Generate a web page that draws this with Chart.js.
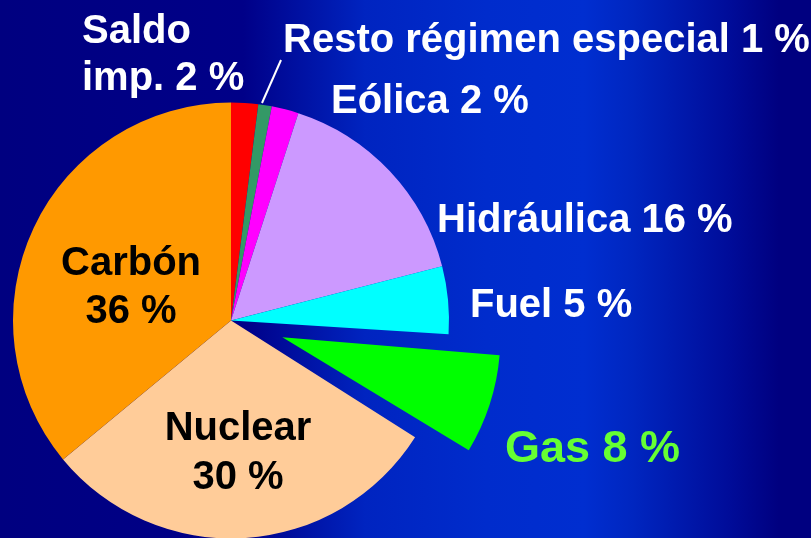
<!DOCTYPE html>
<html>
<head>
<meta charset="utf-8">
<script src="https://cdn.jsdelivr.net/npm/chart.js@4"></script>
<style>
  html, body { margin: 0; padding: 0; }
  body {
    width: 811px; height: 538px; overflow: hidden;
    background: linear-gradient(to right, #000080 0%, #000088 30%, #0024c0 45%, #002ccc 60%, #002ed0 72%, #0026c0 78%, #000c99 90%, #000080 96%, #000080 100%);
  }
  #wrap { position: relative; width: 811px; height: 538px; }
</style>
</head>
<body>
<div id="wrap"><canvas id="pie" width="811" height="538"></canvas></div>
<script>
// Data
const categories = ["Saldo imp.", "Resto régimen especial", "Eólica", "Hidráulica", "Fuel", "Gas", "Nuclear", "Carbón"];
const shares = [2, 1, 2, 16, 5, 8, 30, 36];
const sliceColors = ["#ff0000", "#339966", "#ff00ff", "#cc99ff", "#00ffff", "#00ff00", "#ffcc99", "#ff9900"];
const explodedSlice = "Gas";

// Layout
const R = 218;
const EXPLODE = 54;
const labelLayout = {
  "Saldo imp.": { x: 82, y: [43, 90], split: true, align: "left", color: "#ffffff" },
  "Resto régimen especial": { x: 283, y: [52], align: "left", color: "#ffffff" },
  "Eólica": { x: 331, y: [113], align: "left", color: "#ffffff" },
  "Hidráulica": { x: 437, y: [232], align: "left", color: "#ffffff" },
  "Fuel": { x: 470, y: [317], align: "left", color: "#ffffff" },
  "Gas": { x: 505, y: [462], align: "left", color: "#66ff33", size: 45 },
  "Nuclear": { x: 238, y: [440, 489], split: true, align: "center", color: "#000000" },
  "Carbón": { x: 131, y: [275, 323], split: true, align: "center", color: "#000000" }
};

function labelLines(cat, val) {
  const pct = val + " %";
  if (!labelLayout[cat].split) return [cat + " " + pct];
  if (cat === "Saldo imp.") return ["Saldo", "imp. " + pct];
  return [cat, pct];
}

// keep exploded slice the same radius as the rest (arc draw adds a radius fix for small slices)
const radiusFix = {
  id: "radiusFix",
  afterDatasetUpdate(chart, args) {
    args.meta.data.forEach(el => {
      const off = (el.options.offset || 0) / 4;
      if (!off) return;
      const circ = el.endAngle - el.startAngle;
      const fix = 1 - Math.sin(Math.min(Math.PI, circ));
      el.outerRadius = R - off * fix;
    });
  }
};

const sliceLabels = {
  id: "sliceLabels",
  afterDraw(chart) {
    const ctx = chart.ctx;
    ctx.save();
    categories.forEach((cat, i) => {
      const l = labelLayout[cat];
      ctx.font = "bold " + (l.size || 40) + "px 'Liberation Sans', Arial, sans-serif";
      ctx.fillStyle = l.color;
      ctx.textAlign = l.align;
      ctx.textBaseline = "alphabetic";
      labelLines(cat, shares[i]).forEach((line, k) => ctx.fillText(line, l.x, l.y[k]));
    });
    // leader line for Resto régimen especial
    ctx.strokeStyle = "#ffffff";
    ctx.lineWidth = 2;
    ctx.beginPath();
    ctx.moveTo(262, 103);
    ctx.lineTo(281, 60);
    ctx.stroke();
    ctx.restore();
  }
};

new Chart(document.getElementById("pie"), {
  type: "pie",
  data: {
    labels: categories,
    datasets: [{
      data: shares,
      backgroundColor: sliceColors,
      borderWidth: 0,
      offset: categories.map(c => c === explodedSlice ? EXPLODE * 4 : 0),
      hoverOffset: 0,
      clip: false
    }]
  },
  options: {
    responsive: false,
    animation: false,
    events: [],
    radius: R,
    layout: { padding: { left: 13, right: 362, top: 103, bottom: 0 } },
    plugins: {
      legend: { display: false },
      tooltip: { enabled: false }
    }
  },
  plugins: [radiusFix, sliceLabels]
});
</script>
</body>
</html>
